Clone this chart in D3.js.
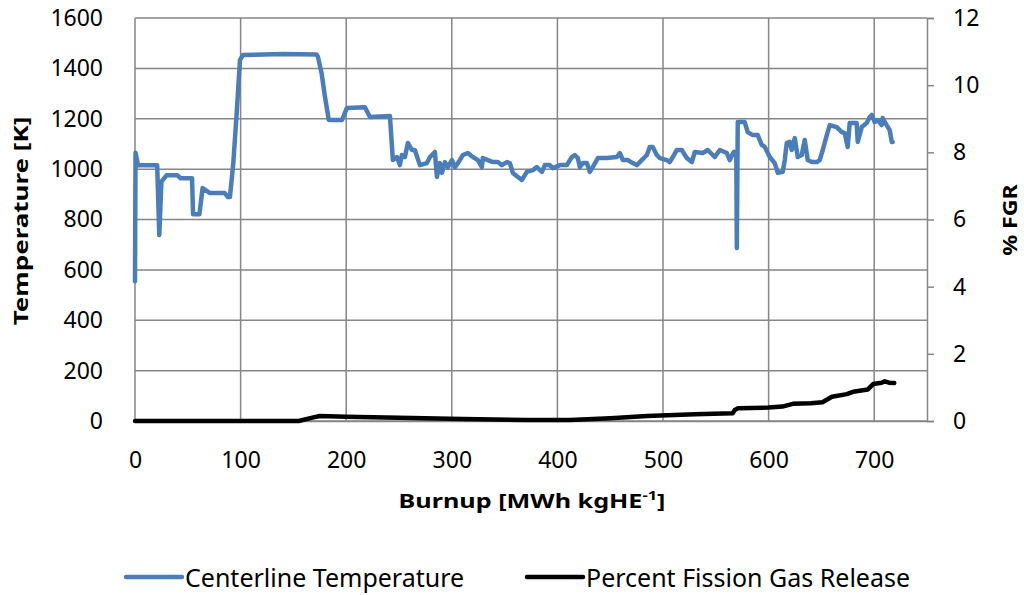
<!DOCTYPE html>
<html><head><meta charset="utf-8">
<script src="https://cdn.jsdelivr.net/npm/d3@7"></script>
<style>
body{margin:0;background:#fff;}
text{font-family:"Noto Sans",sans-serif;fill:#000;}
</style></head>
<body><svg id="c" width="1024" height="595"></svg>
<script>
const xTicks=[0,100,200,300,400,500,600,700];
const tempTicks=[0,200,400,600,800,1000,1200,1400,1600];
const fgrTicks=[0,2,4,6,8,10,12];
const seriesNames=["Centerline Temperature","Percent Fission Gas Release"];
const tempBurnup=[0,0.5,3,21,23,25,30,40,43,54,55,61,64,71,85,88,89.9,93.1,96.3,99.4,102.2,140,172,173.2,176.7,179.9,183,183.6,196,200.7,217.7,222.5,241.4,244.2,248,250.8,252.7,255.6,258.4,262.2,265,269.8,276.4,279.3,284,285.9,288.7,290.6,293.5,296.3,300.1,302.9,305.8,310.5,315.2,320,324.7,328.5,329.4,334.2,338.9,343.6,347.4,352.1,355,357.8,362.6,366.3,371.1,376.8,380.5,385.3,388.1,392.8,395.7,402.3,408.9,413.7,416.5,419.4,421.2,424.1,427.9,430.7,433.5,438.3,446.8,456.3,459.1,462,466.7,471.4,475.2,479.9,484.7,487.5,490.3,494.1,497,503.6,506.4,509.3,513.1,517.8,522.5,527.3,530.1,537.7,542.4,549,553.8,560.4,563.2,567,569.4,569.9,570.8,577.4,580.2,585,589.7,593.5,596.4,601.1,605.8,608.7,613.4,615.3,617.2,620,621.9,624.8,627.6,631.4,634.2,637.1,640.9,645.6,648.4,651.3,655.1,657.9,664.5,669.3,672.1,674.9,676.8,683.4,684.4,688.2,692.9,695.8,697.7,700.5,703.3,707.1,708,711.8,714.7,716.6,717.5];
const tempValues=[555,1065,1015,1015,738,950,976,976,964,964,821,821,925,905,905,889,889,1024,1223,1433,1453,1457,1455,1446,1381,1287,1208,1195,1195,1243,1246,1207,1211,1036,1048,1016,1056,1048,1104,1076,1076,1016,1024,1048,1068,969,1024,985,1028,1008,1036,1008,1024,1056,1064,1048,1036,1008,1044,1036,1028,1028,1016,1028,1024,985,969,957,989,996,1008,989,1016,1016,1004,1016,1016,1048,1056,1044,1008,1024,1024,989,1008,1044,1044,1048,1064,1036,1036,1024,1016,1036,1056,1088,1088,1056,1044,1036,1028,1048,1076,1076,1044,1028,1068,1064,1076,1048,1076,1064,1036,1068,1068,687,1187,1187,1147,1135,1135,1096,1088,1048,1024,985,989,1036,1104,1108,1076,1123,1048,1056,1116,1036,1028,1028,1036,1076,1135,1175,1167,1147,1143,1088,1183,1183,1108,1167,1183,1207,1215,1187,1195,1175,1203,1175,1155,1108,1108];
const fgrBurnup=[0,155,168,175,200,250,310,370,412,450,485,530,566,568,571,600,613,623,640,651,660,674,680,694,699,707,710,714,719];
const fgrValues=[0,0,0.1,0.15,0.13,0.1,0.06,0.03,0.03,0.08,0.15,0.2,0.23,0.33,0.38,0.4,0.43,0.51,0.53,0.56,0.72,0.8,0.87,0.94,1.1,1.14,1.18,1.14,1.13];

const svg=d3.select("#c");
const L=135,R=927,T=18,B=421;
const x=d3.scaleLinear().domain([0,750]).range([L,R]);
const yT=d3.scaleLinear().domain([0,1600]).range([B,T]);
const yF=d3.scaleLinear().domain([0,12]).range([B,T]);
const grid="#868686";
const fmt=d3.format("d");

// gridlines
svg.append("g").selectAll("line").data(tempTicks).join("line")
 .attr("x1",L).attr("x2",R).attr("y1",d=>yT(d)).attr("y2",d=>yT(d))
 .attr("stroke",grid).attr("stroke-width",1.5);
svg.append("g").selectAll("line").data(xTicks).join("line")
 .attr("x1",d=>x(d)).attr("x2",d=>x(d)).attr("y1",T).attr("y2",B)
 .attr("stroke",grid).attr("stroke-width",1.5);

// left axis
const gl=svg.append("g").attr("transform",`translate(${L},0)`)
 .call(d3.axisLeft(yT).tickValues(tempTicks).tickFormat(fmt).tickSize(0).tickPadding(32));
gl.select(".domain").remove();
gl.selectAll("text").attr("font-size",23).attr("font-family","Noto Sans").attr("fill","#000");

// right axis
const gr=svg.append("g").attr("transform",`translate(${R},0)`)
 .call(d3.axisRight(yF).tickValues(fgrTicks).tickFormat(fmt).tickSize(7).tickSizeOuter(7).tickPadding(19));
gr.select(".domain").attr("stroke",grid).attr("stroke-width",1.5);
gr.selectAll(".tick line").attr("stroke",grid).attr("stroke-width",1.5);
gr.selectAll("text").attr("font-size",23).attr("font-family","Noto Sans").attr("fill","#000");

// bottom axis
const gb=svg.append("g").attr("transform",`translate(0,${B})`)
 .call(d3.axisBottom(x).tickValues(xTicks).tickFormat(fmt).tickSize(0).tickPadding(31));
gb.select(".domain").attr("stroke",grid).attr("stroke-width",1.5);
gb.selectAll("text").attr("font-size",23).attr("font-family","Noto Sans").attr("fill","#000");

// lines
const tempData=tempBurnup.map((b,i)=>[b,tempValues[i]]);
const fgrData=fgrBurnup.map((b,i)=>[b,fgrValues[i]]);
svg.append("path").datum(fgrData).attr("fill","none").attr("stroke","#000")
 .attr("stroke-width",4.5).attr("stroke-linejoin","round").attr("stroke-linecap","round")
 .attr("d",d3.line().x(d=>x(d[0])).y(d=>yF(d[1])));
svg.append("path").datum(tempData).attr("fill","none").attr("stroke","#4a7ebb")
 .attr("stroke-width",4.5).attr("stroke-linejoin","round").attr("stroke-linecap","round")
 .attr("d",d3.line().x(d=>x(d[0])).y(d=>yT(d[1])));

// axis titles
const xt=svg.append("text").attr("transform","translate(532,508) scale(1.26,1)").attr("text-anchor","middle")
 .attr("font-size",20).attr("font-weight","bold");
xt.append("tspan").text("Burnup [MWh kgHE");
xt.append("tspan").attr("font-size",13).attr("dy",-8).text("-1");
xt.append("tspan").attr("dy",8).text("]");
svg.append("text").attr("transform","translate(28,221) rotate(-90) scale(1.3,1)").attr("text-anchor","middle")
 .attr("font-size",20).attr("font-weight","bold").text("Temperature [K]");
svg.append("text").attr("transform","translate(1017,220) rotate(-90) scale(1.16,1)").attr("text-anchor","middle")
 .attr("font-size",20).attr("font-weight","bold").text("% FGR");

// legend
const leg=[{name:seriesNames[0],c:"#4a7ebb",x0:126},{name:seriesNames[1],c:"#000",x0:527}];
leg.forEach(l=>{
 svg.append("line").attr("x1",l.x0).attr("x2",l.x0+56).attr("y1",577).attr("y2",577)
  .attr("stroke",l.c).attr("stroke-width",4.5).attr("stroke-linecap","round");
 svg.append("text").attr("x",l.x0+59).attr("y",587).attr("font-size",25).text(l.name);
});
</script></body></html>
